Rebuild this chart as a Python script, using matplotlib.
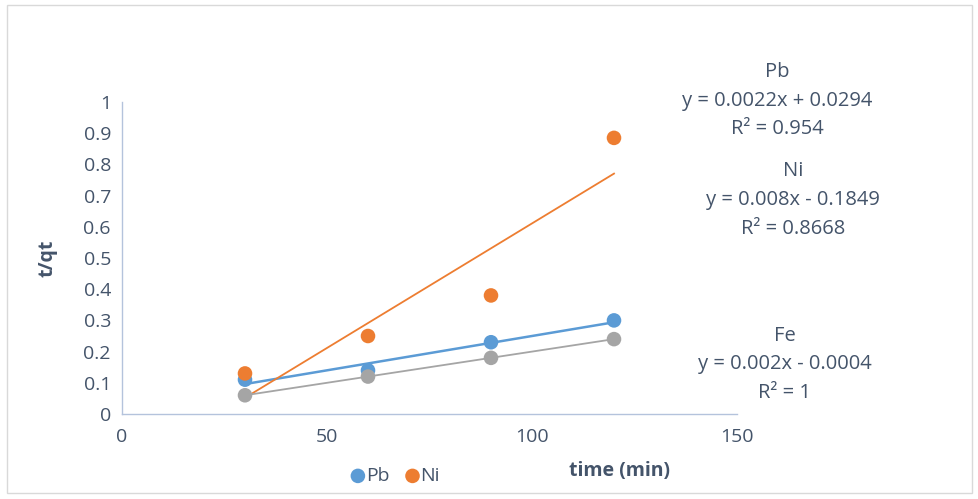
import numpy as np
import matplotlib.pyplot as plt
from matplotlib.patches import Rectangle

plt.rcParams['font.family'] = ['Open Sans', 'DejaVu Sans']

time_min = [30, 60, 90, 120]
pb = [0.11, 0.14, 0.23, 0.30]
ni = [0.13, 0.25, 0.38, 0.885]
fe = [0.06, 0.12, 0.18, 0.24]

series = [("Pb", pb, "#5B9BD5", 1.8), ("Ni", ni, "#ED7D31", 1.3), ("Fe", fe, "#A5A5A5", 1.3)]
txt_col = "#44546A"

fig = plt.figure(figsize=(9.79, 4.99), dpi=100)
fig.patches.append(Rectangle((7/979, 1-493/499), 965/979, 488/499, transform=fig.transFigure,
                             fill=False, edgecolor="#D9D9D9", linewidth=1))
ax = fig.add_axes([122/979, 1-414/499, 615/979, 312/499])

x = np.array(time_min)
for name, y, col, lw in series:
    # fitted trend line, from first to last point
    k, b = np.polyfit(x, y, 1)
    ax.plot([x[0], x[-1]], [k*x[0]+b, k*x[-1]+b], color=col, lw=lw, zorder=2)
for name, y, col, lw in series:
    lab = name if name != "Fe" else "_nolegend_"
    ax.scatter(x, y, s=110, color=col, zorder=3, label=lab, edgecolors='none')

ax.set_xlim(0, 150)
ax.set_ylim(0, 1)
ax.set_xticks([0, 50, 100, 150])
ax.set_yticks(np.arange(0, 1.01, 0.1))
ax.set_yticklabels(["0", "0.1", "0.2", "0.3", "0.4", "0.5", "0.6", "0.7", "0.8", "0.9", "1"])
ax.tick_params(length=0, labelsize=14, colors=txt_col, pad=8)
ax.tick_params(axis='x', pad=10)
for s in ["top", "right"]:
    ax.spines[s].set_visible(False)
for s in ["left", "bottom"]:
    ax.spines[s].set_color("#B4C3DC")
    ax.spines[s].set_linewidth(1)

fig.text(48/979, 1-258/499, "t/qt", rotation=90, ha='center', va='center',
         fontsize=14, fontweight='bold', color=txt_col)
fig.text(620/979, 1-471/499, "time (min)", ha='center', va='center',
         fontsize=14, fontweight='bold', color=txt_col)

leg = ax.legend(loc='center', bbox_to_anchor=(393/979, 1-476/499), bbox_transform=fig.transFigure,
                ncol=2, frameon=False, fontsize=14, handletextpad=-0.2, columnspacing=0.6,
                handlelength=1.2, markerscale=1.0, borderpad=0)
for t in leg.get_texts():
    t.set_color(txt_col)

eq = [
    (777, 72, "Pb"), (777, 101, "y = 0.0022x + 0.0294"), (777, 129, "R² = 0.954"),
    (793, 171, "Ni"), (793, 200, "y = 0.008x - 0.1849"), (793, 229, "R² = 0.8668"),
    (785, 336, "Fe"), (785, 364, "y = 0.002x - 0.0004"), (785, 393, "R² = 1"),
]
for px, py, s in eq:
    fig.text(px/979, 1-py/499, s, ha='center', va='center', fontsize=14.5, color=txt_col)

fig.savefig("out.png", dpi=100)
